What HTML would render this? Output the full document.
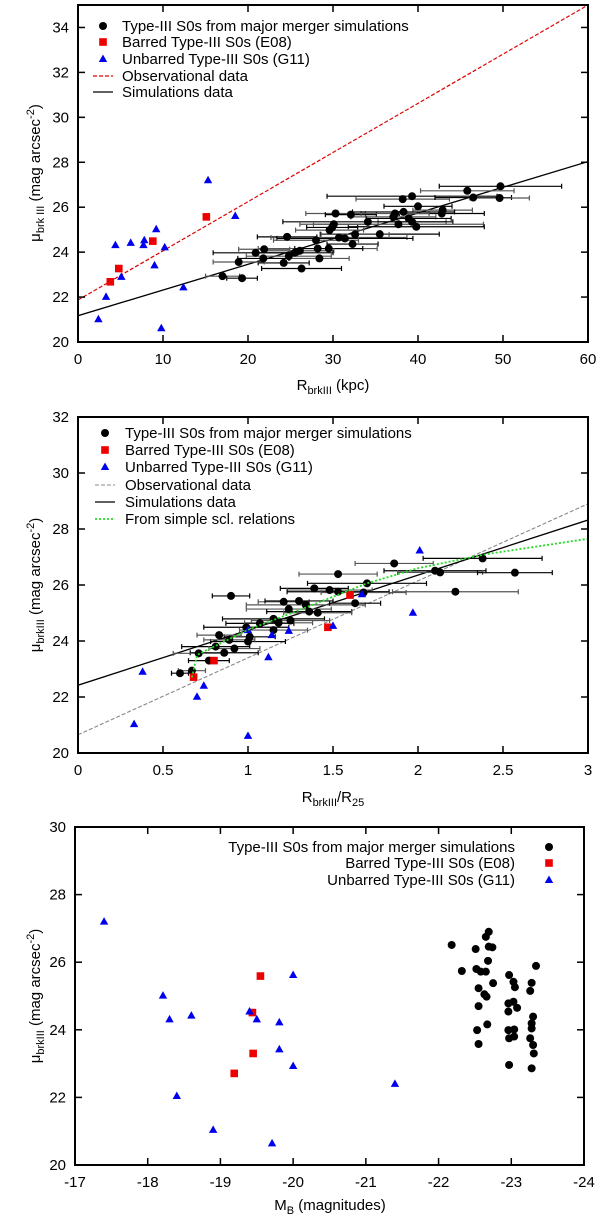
<!DOCTYPE html>
<html><head><meta charset="utf-8"><style>
html,body{margin:0;padding:0;background:#fff;}
svg{display:block;font-family:"Liberation Sans",sans-serif;}
</style></head><body>
<svg id="fig" width="600" height="1217" viewBox="0 0 600 1217" xmlns="http://www.w3.org/2000/svg">
<defs>
<clipPath id="c1"><rect x="78" y="5" width="510" height="337"/></clipPath>
<clipPath id="c2"><rect x="78" y="417" width="510" height="336"/></clipPath>
<clipPath id="c3"><rect x="75" y="827" width="509" height="338"/></clipPath>
</defs>
<!-- axis titles -->
<text transform="translate(40,173) rotate(-90)" text-anchor="middle" font-size="15">μ<tspan font-size="11" dy="4">brk III</tspan><tspan dy="-4"> (mag arcsec</tspan><tspan font-size="11" dy="-6">-2</tspan><tspan dy="6">)</tspan></text>
<text x="333" y="390" text-anchor="middle" font-size="15">R<tspan font-size="11" dy="4">brkIII</tspan><tspan dy="-4"> (kpc)</tspan></text>
<text transform="translate(40,585) rotate(-90)" text-anchor="middle" font-size="15">μ<tspan font-size="11" dy="4">brkIII</tspan><tspan dy="-4"> (mag arcsec</tspan><tspan font-size="11" dy="-6">-2</tspan><tspan dy="6">)</tspan></text>
<text x="333" y="802" text-anchor="middle" font-size="15">R<tspan font-size="11" dy="4">brkIII</tspan><tspan dy="-4">/R</tspan><tspan font-size="11" dy="4">25</tspan></text>
<text transform="translate(40,996) rotate(-90)" text-anchor="middle" font-size="15">μ<tspan font-size="11" dy="4">brkIII</tspan><tspan dy="-4"> (mag arcsec</tspan><tspan font-size="11" dy="-6">-2</tspan><tspan dy="6">)</tspan></text>
<text x="330" y="1210" text-anchor="middle" font-size="15">M<tspan font-size="11" dy="4">B</tspan><tspan dy="-4"> (magnitudes)</tspan></text>
</svg>
<script>
// ---------- Panel 1 data ----------
const p1SimR = [49.7,45.8,39.3,38.2,46.5,49.6,40.0,42.9,42.8,30.3,32.1,37.3,38.3,37.1,38.9,39.3,34.1,37.7,39.8,30.1,29.9,29.6,35.5,32.6,24.6,30.7,31.4,28.0,32.3,21.9,20.9,28.2,29.5,26.1,25.5,24.8,21.8,28.4,24.2,18.9,26.3,17.0,19.3];
const p1SimMu = [26.93,26.73,26.49,26.36,26.43,26.41,26.04,25.87,25.72,25.72,25.67,25.72,25.79,25.57,25.50,25.35,25.35,25.24,25.13,25.24,25.10,24.98,24.80,24.79,24.68,24.65,24.61,24.53,24.36,24.13,23.97,24.16,24.16,24.06,23.97,23.82,23.72,23.72,23.52,23.56,23.27,22.93,22.84];
const p1SimErr = [7.2,5.5,10,5.5,4.5,3.5,4,3.5,5,3.5,3,4,6,5,5,4,10,10,8,4,3,4,7,4,3.5,8,8,5,3,3,5,7,4,4,4.5,5,3,3.5,3,3,4.7,2,1.8];
const p1BarR = [15.1,8.8,4.8,3.8];
const p1BarMu = [25.57,24.49,23.27,22.68];
const p1UnbR = [15.3,18.5,9.2,4.4,6.2,7.8,7.7,10.2,9.0,5.1,3.3,12.4,2.4,9.8];
const p1UnbMu = [27.2,25.61,25.02,24.31,24.41,24.53,24.31,24.21,23.41,22.90,22.01,22.43,21.01,20.61];
const p1ObsLineX = [0,60];
const p1ObsLineY = [21.87,35.0];
const p1SimLineX = [0,60];
const p1SimLineY = [21.17,28.03];
const p1XTicks = [0,10,20,30,40,50,60];
const p1YTicks = [20,22,24,26,28,30,32,34];

// ---------- Panel 2 data ----------
const p2SimR = [2.38,1.86,2.10,2.13,2.57,1.53,1.70,2.22,1.39,1.48,1.53,1.68,0.90,1.21,1.30,1.34,1.63,1.24,1.36,1.41,1.15,1.25,1.07,1.18,0.99,1.15,1.01,0.83,1.00,0.89,0.81,0.92,0.86,0.71,0.77,0.67,0.60];
const p2SimMu = [26.95,26.77,26.51,26.45,26.44,26.39,26.06,25.76,25.88,25.82,25.76,25.73,25.61,25.40,25.43,25.29,25.35,25.14,25.05,25.01,24.79,24.73,24.63,24.65,24.49,24.39,24.15,24.21,23.98,24.04,23.80,23.73,23.58,23.56,23.30,22.94,22.85];
const p2SimErr = [0.35,0.23,0.3,0.25,0.22,0.23,0.35,0.37,0.2,0.25,0.3,0.25,0.11,0.15,0.2,0.35,0.15,0.25,0.25,0.2,0.3,0.23,0.2,0.2,0.25,0.2,0.15,0.13,0.22,0.15,0.2,0.15,0.2,0.15,0.12,0.08,0.05];
const p2BarR = [1.60,1.47,0.80,0.68];
const p2BarMu = [25.64,24.49,23.30,22.71];
const p2UnbR = [2.01,1.97,1.67,1.50,1.00,1.14,1.24,0.38,1.12,0.74,0.70,0.33,1.00];
const p2UnbMu = [27.23,25.01,25.67,24.54,24.39,24.21,24.36,22.90,23.42,22.40,22.01,21.03,20.61];
const p2ObsLineX = [0,3];
const p2ObsLineY = [20.65,28.9];
const p2SimLineX = [0,3];
const p2SimLineY = [22.42,28.32];
const p2SclX = [0.67,0.70,1.0,1.3,1.7,2.0,2.4,3.0];
const p2SclY = [22.7,23.5,24.4,25.1,26.06,26.6,27.1,27.65];
const p2XTicks = [0,0.5,1,1.5,2,2.5,3];
const p2YTicks = [20,22,24,26,28,30,32];

// ---------- Panel 3 data ----------
const p3SimM = [-22.69,-22.65,-22.18,-22.51,-22.69,-22.74,-22.68,-22.32,-22.52,-22.58,-22.65,-22.75,-22.55,-22.63,-22.66,-22.55,-22.67,-22.53,-22.55,-22.97,-23.03,-23.05,-22.96,-23.03,-23.08,-22.96,-22.96,-23.04,-22.97,-23.04,-22.97,-23.34,-23.28,-23.26,-23.30,-23.28,-23.28,-23.26,-23.30,-23.31,-23.28];
const p3SimMu = [26.90,26.75,26.51,26.39,26.46,26.44,26.04,25.74,25.80,25.72,25.72,25.38,25.23,25.05,24.98,24.70,24.16,23.99,23.58,25.62,25.42,25.26,24.78,24.83,24.65,24.54,23.99,24.01,23.75,23.80,22.96,25.89,25.39,25.15,24.39,24.19,24.04,23.75,23.55,23.30,22.86];
const p3BarM = [-19.55,-19.44,-19.45,-19.19];
const p3BarMu = [25.59,24.51,23.30,22.71];
const p3UnbM = [-17.40,-18.21,-18.30,-18.60,-18.40,-18.90,-19.40,-19.50,-19.81,-19.81,-20.00,-20.00,-19.71,-21.40];
const p3UnbMu = [27.20,25.01,24.31,24.42,22.04,21.04,24.54,24.31,24.22,23.42,25.62,22.93,20.64,22.40];
const p3XTicks = [-17,-18,-19,-20,-21,-22,-23,-24];
const p3YTicks = [20,22,24,26,28,30];

const NS = "http://www.w3.org/2000/svg";
const svg = document.getElementById('fig');
function mk(tag, attrs, parent){
  const e = document.createElementNS(NS, tag);
  for (const k in attrs) e.setAttribute(k, attrs[k]);
  (parent||svg).appendChild(e);
  return e;
}
function axes(P){
  const sx = v => P.l + (v - P.xmin)/(P.xmax - P.xmin)*(P.r - P.l);
  const sy = v => P.b - (v - P.ymin)/(P.ymax - P.ymin)*(P.b - P.t);
  return {sx, sy};
}
function drawFrame(P, xt, yt, tag){
  const {sx, sy} = axes(P);
  const g = mk('g', {});
  
  
  xt.forEach(v => {
    const x = sx(v);
    const t1 = mk('line', {x1:x, y1:P.b, x2:x, y2:P.b-7, stroke:'#000', 'stroke-width':1.5}, g);
    
    
    const t2 = mk('line', {x1:x, y1:P.t, x2:x, y2:P.t+7, stroke:'#000', 'stroke-width':1.5}, g);
    
    
    const lb = mk('text', {x:x, y:P.b+22, 'text-anchor':'middle', 'font-size':15}, g);
    lb.textContent = String(v);
    
    
  });
  yt.forEach(v => {
    const y = sy(v);
    const t1 = mk('line', {x1:P.l, y1:y, x2:P.l+7, y2:y, stroke:'#000', 'stroke-width':1.5}, g);
    
    
    const t2 = mk('line', {x1:P.r, y1:y, x2:P.r-7, y2:y, stroke:'#000', 'stroke-width':1.5}, g);
    
    
    const lb = mk('text', {x:P.l-9, y:y+5, 'text-anchor':'end', 'font-size':15}, g);
    lb.textContent = String(v);
    
    
  });
  const fr = mk('rect', {x:P.l, y:P.t, width:P.r-P.l, height:P.b-P.t, fill:'none', stroke:'#000', 'stroke-width':2}, g);
  
  
}
function drawLine(P, xs, ys, style, clip, name){
  const {sx, sy} = axes(P);
  const pts = xs.map((x,i) => sx(x) + ',' + sy(ys[i])).join(' ');
  const l = mk('polyline', Object.assign({points:pts, fill:'none', 'clip-path':'url(#'+clip+')'}, style));
  
  
}
function circles(P, xs, ys, errs, name, r){
  const {sx, sy} = axes(P);
  const g = mk('g', {});
  
  
  if (errs) xs.forEach((x,i) => {
    const y = sy(ys[i]);
    const a = sx(x - errs[i]), b = sx(x + errs[i]);
    const col = i % 2 ? '#555' : '#000';
    const e = mk('path', {d:`M${a},${y}H${b}M${a},${y-2.5}V${y+2.5}M${b},${y-2.5}V${y+2.5}`, stroke:col, 'stroke-width':1.2, fill:'none'}, g);
    
    
  });
  xs.forEach((x,i) => {
    const c = mk('circle', {cx:sx(x), cy:sy(ys[i]), r:r, fill:'#000'}, g);
    
    
  });
}
function squares(P, xs, ys, name){
  const {sx, sy} = axes(P);
  xs.forEach((x,i) => {
    const s = mk('rect', {x:sx(x)-3.8, y:sy(ys[i])-3.8, width:7.6, height:7.6, fill:'#ee0000'});
    
    
  });
}
function triangles(P, xs, ys, name){
  const {sx, sy} = axes(P);
  xs.forEach((x,i) => {
    const cx = sx(x), cy = sy(ys[i]);
    const t = mk('polygon', {points:`${cx},${cy-4.5} ${cx-4.2},${cy+3} ${cx+4.2},${cy+3}`, fill:'#0000ee'});
    
    
  });
}
function legendRow(x, y, kind, text, tag, anchor, tx){
  let m;
  if (kind === 'circle') m = mk('circle', {cx:x, cy:y, r:4, fill:'#000'});
  else if (kind === 'square') m = mk('rect', {x:x-3.8, y:y-3.8, width:7.6, height:7.6, fill:'#ee0000'});
  else if (kind === 'tri') m = mk('polygon', {points:`${x},${y-4.5} ${x-4.2},${y+3} ${x+4.2},${y+3}`, fill:'#0000ee'});
  else m = mk('line', Object.assign({x1:x-10, y1:y, x2:x+10, y2:y}, kind));
  
  
  const t = mk('text', {x:tx, y:y+5, 'font-size':15, 'text-anchor':anchor||'start'});
  t.textContent = text;
  
  
}

// Panel 1
const P1 = {l:78, r:588, t:5, b:342, xmin:0, xmax:60, ymin:20, ymax:35};
drawLine(P1, p1ObsLineX, p1ObsLineY, {stroke:'#e00000','stroke-width':1.2,'stroke-dasharray':'4,2'}, 'c1', 'p1-observational-fit-line');
drawLine(P1, p1SimLineX, p1SimLineY, {stroke:'#000','stroke-width':1.3}, 'c1', 'p1-simulations-fit-line');
circles(P1, p1SimR, p1SimMu, p1SimErr, 'p1-simulation', 4);
squares(P1, p1BarR, p1BarMu, 'p1-barred');
triangles(P1, p1UnbR, p1UnbMu, 'p1-unbarred');
drawFrame(P1, p1XTicks, p1YTicks, 'p1');
legendRow(103, 26, 'circle', 'Type-III S0s from major merger simulations', 'p1', 'start', 122);
legendRow(103, 42, 'square', 'Barred Type-III S0s (E08)', 'p1', 'start', 122);
legendRow(103, 59, 'tri', 'Unbarred Type-III S0s (G11)', 'p1', 'start', 122);
legendRow(103, 76, {stroke:'#e00000','stroke-width':1.2,'stroke-dasharray':'4,2'}, 'Observational data', 'p1', 'start', 122);
legendRow(103, 92, {stroke:'#000','stroke-width':1.3}, 'Simulations data', 'p1', 'start', 122);

// Panel 2
const P2 = {l:78, r:588, t:417, b:753, xmin:0, xmax:3, ymin:20, ymax:32};
drawLine(P2, p2ObsLineX, p2ObsLineY, {stroke:'#888','stroke-width':1.1,'stroke-dasharray':'4,2'}, 'c2', 'p2-observational-fit-line');
drawLine(P2, p2SimLineX, p2SimLineY, {stroke:'#000','stroke-width':1.3}, 'c2', 'p2-simulations-fit-line');
circles(P2, p2SimR, p2SimMu, p2SimErr, 'p2-simulation', 4);
squares(P2, p2BarR, p2BarMu, 'p2-barred');
triangles(P2, p2UnbR, p2UnbMu, 'p2-unbarred');
drawLine(P2, p2SclX, p2SclY, {stroke:'#22dd22','stroke-width':1.8,'stroke-dasharray':'2,2'}, 'c2', 'p2-scaling-relation-curve');
drawFrame(P2, p2XTicks, p2YTicks, 'p2');
legendRow(105, 433, 'circle', 'Type-III S0s from major merger simulations', 'p2', 'start', 125);
legendRow(105, 450, 'square', 'Barred Type-III S0s (E08)', 'p2', 'start', 125);
legendRow(105, 467, 'tri', 'Unbarred Type-III S0s (G11)', 'p2', 'start', 125);
legendRow(105, 485, {stroke:'#888','stroke-width':1.1,'stroke-dasharray':'4,2'}, 'Observational data', 'p2', 'start', 125);
legendRow(105, 502, {stroke:'#000','stroke-width':1.3}, 'Simulations data', 'p2', 'start', 125);
legendRow(105, 519, {stroke:'#22dd22','stroke-width':1.8,'stroke-dasharray':'2,2'}, 'From simple scl. relations', 'p2', 'start', 125);

// Panel 3
const P3 = {l:75, r:584, t:827, b:1165, xmin:-17, xmax:-24, ymin:20, ymax:30};
circles(P3, p3SimM, p3SimMu, null, 'p3-simulation', 4);
squares(P3, p3BarM, p3BarMu, 'p3-barred');
triangles(P3, p3UnbM, p3UnbMu, 'p3-unbarred');
drawFrame(P3, p3XTicks, p3YTicks, 'p3');
legendRow(549, 847, 'circle', 'Type-III S0s from major merger simulations', 'p3', 'end', 515);
legendRow(549, 863, 'square', 'Barred Type-III S0s (E08)', 'p3', 'end', 515);
legendRow(549, 880, 'tri', 'Unbarred Type-III S0s (G11)', 'p3', 'end', 515);
</script>
</body></html>
